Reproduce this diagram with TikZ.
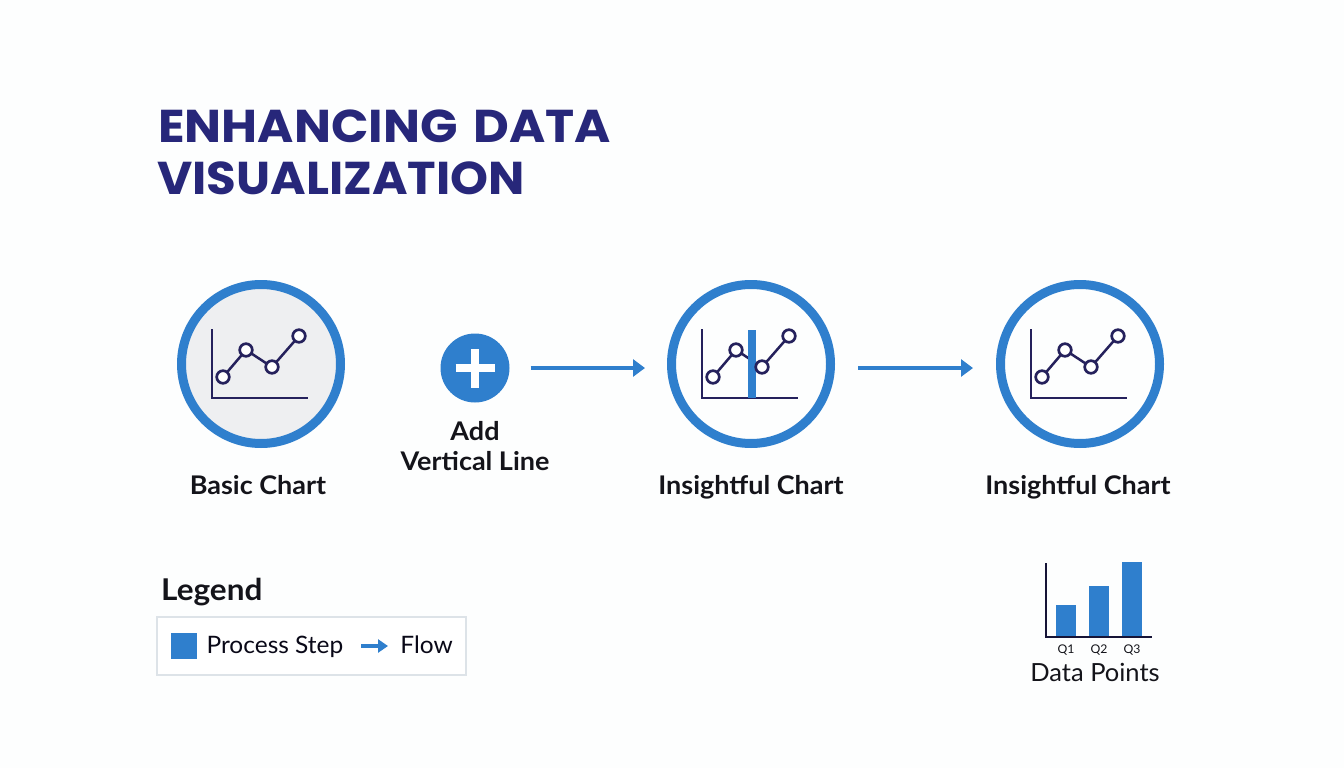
\documentclass[tikz,border=0pt]{standalone}
\usepackage{fontspec}
\setmainfont{Lato}[FakeStretch=1.02]
\newfontfamily\titlefont{Poppins}[FakeStretch=1.07, WordSpace=1.5]
\newfontfamily\shorttitlefont{Poppins}[FakeStretch=1.05]
\newfontfamily\labelfont{Lato}[FakeStretch=1.05]
\usepackage{tikz}
\usetikzlibrary{arrows.meta, positioning}

\definecolor{ringblue}{HTML}{2F7FCD}
\definecolor{linenavy}{HTML}{25215C}
\definecolor{titlenavy}{HTML}{27277A}
\definecolor{softgray}{HTML}{EEEFF1}
\definecolor{boxgray}{HTML}{DDE3E8}
\definecolor{inkblack}{HTML}{14141A}
\definecolor{paper}{HTML}{FDFEFE}

\tikzset{
    chartcircle/.style={draw=ringblue, circle, line width=9pt, minimum size=159pt, inner sep=0pt},
    steplabel/.style={inner sep=0pt, text=inkblack, font=\fontsize{25.7}{30}\labelfont\bfseries, text height=18pt, text depth=5pt},
    titleline/.style={anchor=west, inner sep=0pt, text=titlenavy, font=\fontsize{46}{50}\titlefont\bfseries, text height=33pt, text depth=0pt},
    flowarrow/.style={-{Triangle[length=12pt, width=17pt]}, ringblue, line width=4pt},
    valuebar/.style={fill=ringblue, anchor=south, minimum width=20pt, inner sep=0pt},
    quarterlabel/.style={below=8pt of #1, inner sep=0pt, text=inkblack, font=\fontsize{12}{14}\selectfont},
    legendtext/.style={inner sep=0pt, text=black!75!linenavy, font=\fontsize{24}{28}\selectfont, text height=17pt, text depth=5pt},
    linechart/.pic={
        \draw[linenavy, line width=2.5pt] (-49,-35) -- (-49,34) -- (47,34);
        \draw[linenavy, line width=2.5pt] (-38,13) -- (-15,-14) -- (11,3) -- (38,-28);
        \ifnum\pgfkeysvalueof{/tikz/chartbar}=1
            \fill[ringblue] (-3,-34) rectangle (4.5,34);
        \fi
        \foreach \px/\py in {-38/13, -15/-14, 11/3, 38/-28}
            \draw[linenavy, line width=2.7pt, fill=white] (\px,\py) circle (6.3pt);
    },
    chartbar/.initial=0
}

\begin{document}
\begin{tikzpicture}[x=1pt, y=-1pt]
    \useasboundingbox[fill=paper] (0,0) rectangle (1344,768);

    \node (titletop) [titleline] at (158,126) {ENHANCING DATA};
    \node (titlebottom) [titleline, font=\fontsize{46}{50}\shorttitlefont\bfseries] at (157,178) {VISUALIZATION};

    \node (basic) [chartcircle, fill=softgray] at (261,364) {};
    \node (plus) [circle, fill=ringblue, minimum size=69pt, inner sep=0pt, outer sep=0pt] at (475,368) {};
    \node (insight) [chartcircle] at (751,364) {};
    \node (final) [chartcircle] at (1080,364) {};

    \draw[white, line width=8pt] ([xshift=-19.5pt]plus.center) -- ([xshift=19.5pt]plus.center);
    \draw[white, line width=8pt] ([yshift=-19.5pt]plus.center) -- ([yshift=19.5pt]plus.center);

    \pic at (basic.center) {linechart};
    \pic[chartbar=1] at (insight.center) {linechart};
    \pic at (final.center) {linechart};

    \node (basiclabel) [steplabel, below=28pt of basic, xshift=-3pt] {Basic Chart};
    \node (addlabel) [steplabel, below=20pt of plus] {Add};
    \node (linelabel) [steplabel, below=6.5pt of addlabel] {Vertical Line};
    \node (insightlabel) [steplabel, below=28pt of insight] {Insightful Chart};
    \node (finallabel) [steplabel, below=28pt of final, xshift=-2pt] {Insightful Chart};

    \draw[flowarrow, shorten <=21pt, shorten >=22pt] (plus.east) -- (plus.east -| insight.west);
    \draw[flowarrow, shorten <=23pt, shorten >=23pt] (insight.east |- plus.east) -- (final.west |- plus.east);

    \node (legendtitle) [anchor=west, inner sep=0pt, text=inkblack, font=\fontsize{30}{32}\labelfont\bfseries] at (161,592) {Legend};
    \node (legendbox) [draw=boxgray, line width=2pt, fill=white, anchor=north west, minimum width=309pt, minimum height=58pt, inner sep=0pt] at (156,616) {};
    \node (legendsquare) [fill=ringblue, minimum size=25.5pt, inner sep=0pt, right=15pt of legendbox.west] {};
    \node (legendstep) [legendtext, right=9.5pt of legendsquare, yshift=-1pt] {Process Step};
    \node (legendflow) [legendtext, left=14pt of legendbox.east, yshift=-1pt] {Flow};
    \coordinate (flowstart) at (361,646);
    \coordinate (flowend) at (388,646);
    \draw[-{Triangle[length=10pt, width=13pt]}, ringblue, line width=3.5pt] (flowstart) -- (flowend);

    \coordinate (barorigin) at (1046,637);
    \coordinate (barend) at (1152,637);
    \node (barone) [valuebar, minimum height=32pt] at (1066,637) {};
    \node (bartwo) [valuebar, minimum height=51pt] at (1099,637) {};
    \node (barthree) [valuebar, minimum height=75pt] at (1132,637) {};
    \draw[linenavy!60!black, line width=2.7pt] (1046,563) -- (barorigin) -- (barend);
    \node (qone) [quarterlabel=barone] {Q1};
    \node (qtwo) [quarterlabel=bartwo] {Q2};
    \node (qthree) [quarterlabel=barthree] {Q3};
    \node (datapoints) [inner sep=0pt, text=inkblack, font=\fontsize{25}{28}\selectfont] at (1095,672) {Data Points};
\end{tikzpicture}
\end{document}
